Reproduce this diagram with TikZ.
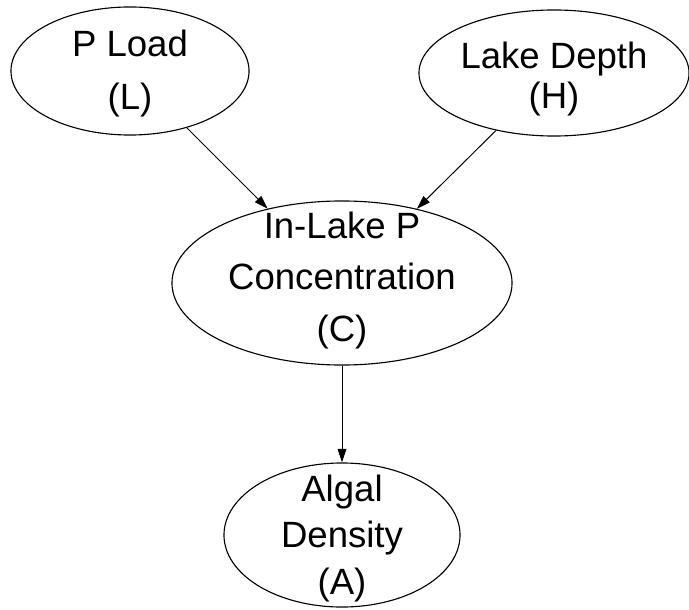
\documentclass[tikz,border=0pt]{standalone}
\usepackage{fontspec}
\setmainfont{Liberation Sans}
\usetikzlibrary{shapes.geometric,arrows.meta}

\begin{document}
\begin{tikzpicture}[x=0.025cm,y=-0.025cm,
        var/.style={draw,ellipse,line width=0.8pt,inner sep=0pt},
        txt/.style={align=center,inner sep=0pt},
        link/.style={-{Triangle[length=3.4mm,width=2.2mm]},line width=0.7pt}]
        \useasboundingbox (0,0) rectangle (689,610);

        \node[var,minimum width=5.95cm,minimum height=3.2cm,
            label={[txt,yshift=-1.8pt,font=\fontsize{26pt}{37.7pt}\selectfont]center:P Load\\(L)}](load) at (130,71){};
        \node[var,minimum width=6.75cm,minimum height=3.15cm,
            label={[txt,yshift=-4.3pt,font=\fontsize{26pt}{28.5pt}\selectfont]center:Lake Depth\\(H)}](depth) at (554,73){};
        \node[var,minimum width=8.5cm,minimum height=4.1cm,
            label={[txt,yshift=1.8pt,font=\fontsize{26pt}{36.6pt}\selectfont]center:In-Lake P\\Concentration\\(C)}](conc) at (342,283){};
        \node[var,minimum width=5.9cm,minimum height=3.6cm,
            label={[txt,yshift=-2.5pt,font=\fontsize{26pt}{33.1pt}\selectfont]center:Algal\\Density\\(A)}](algae) at (342,535){};

        \draw[link](load)--(conc);
        \draw[link](depth)--(conc);
        \draw[link](conc)--(algae);
    \end{tikzpicture}
\end{document}
